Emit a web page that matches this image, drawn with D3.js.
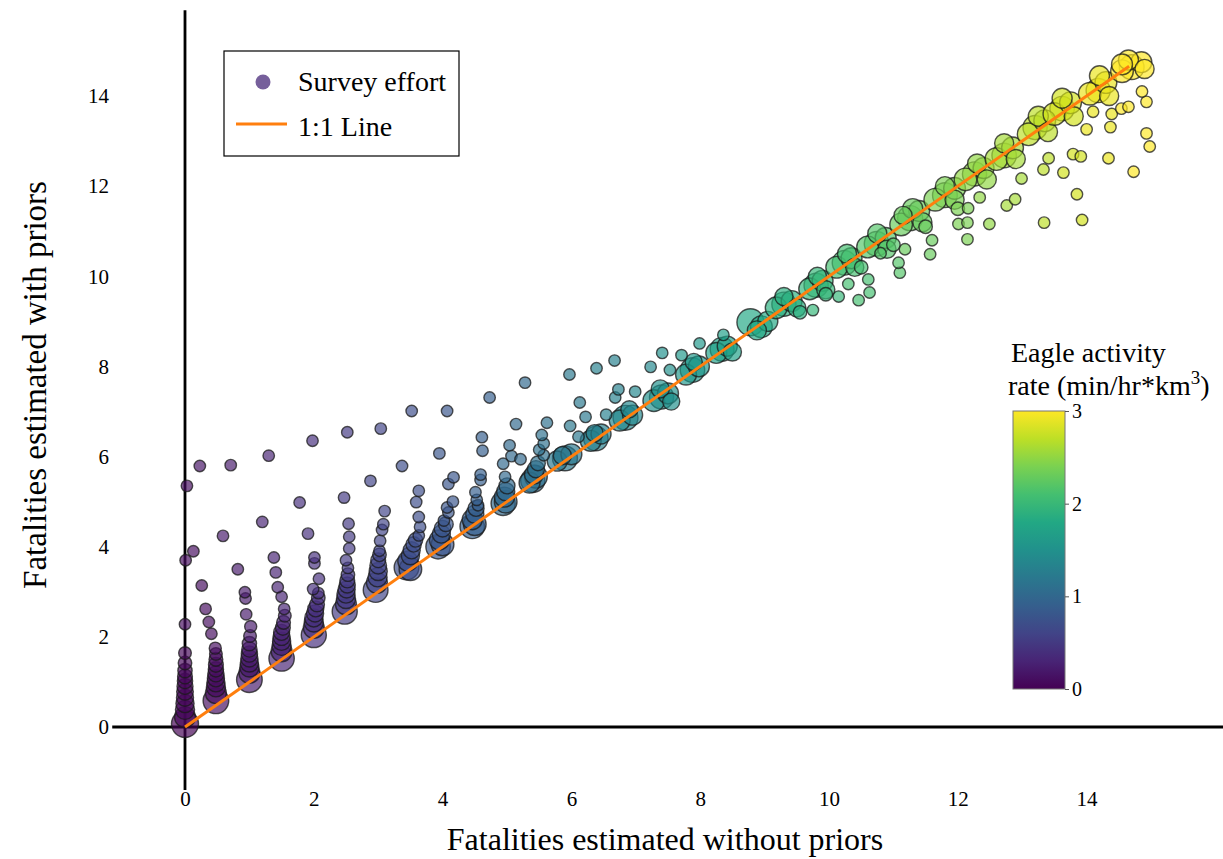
<!DOCTYPE html>
<html>
<head>
<meta charset="utf-8">
<script src="https://cdn.jsdelivr.net/npm/d3@7"></script>
<style>
  body { margin: 0; background: #fff; }
  svg text { font-family: "Liberation Serif", "Times New Roman", serif; }
</style>
</head>
<body>
<div id="chart"></div>
<script>
var width = 1223;
var height = 859;

// tick labels
var xTicks = [0, 2, 4, 6, 8, 10, 12, 14];
var yTicks = [0, 2, 4, 6, 8, 10, 12, 14];
var rateTicks = [0, 1, 2, 3];

// [without priors, with priors, survey effort, activity rate]
var lineClusters = [
  [0.0, 0.07, 100, 0.0], [0.48, 0.58, 90, 0.1], [1.0, 1.05, 90, 0.2], [1.5, 1.52, 88, 0.3],
  [2.0, 2.04, 86, 0.4], [2.48, 2.56, 86, 0.5], [2.96, 3.04, 84, 0.6], [3.44, 3.54, 84, 0.7],
  [3.93, 4.0, 82, 0.8], [4.46, 4.45, 82, 0.9], [4.94, 4.96, 80, 1.0], [5.4, 5.47, 80, 1.1],
  [5.9, 5.96, 85, 1.2], [6.38, 6.4, 82, 1.3], [6.84, 6.86, 85, 1.4], [7.4, 7.32, 80, 1.5],
  [7.88, 7.92, 82, 1.6], [8.34, 8.38, 78, 1.7], [8.78, 8.98, 100, 1.8], [9.3, 9.38, 80, 1.9],
  [9.8, 9.8, 80, 2.0], [10.24, 10.3, 82, 2.1], [10.74, 10.72, 84, 2.2], [11.26, 11.29, 86, 2.3],
  [11.8, 11.8, 84, 2.4], [12.26, 12.27, 80, 2.5], [12.72, 12.68, 82, 2.6], [13.2, 13.3, 80, 2.7],
  [13.62, 13.72, 82, 2.8], [14.18, 14.12, 80, 2.9], [14.7, 14.64, 84, 3.0]
];

var clusterExtras = [
  [3.5, 3.5, 70, 0.7], [4.0, 4.05, 70, 0.8], [4.5, 4.5, 70, 0.9], [4.98, 5.0, 70, 1.0],
  [5.45, 5.55, 70, 1.1], [5.35, 5.42, 60, 1.1],
  [5.78, 5.9, 55, 1.2], [6.0, 6.05, 60, 1.2], [5.86, 6.02, 45, 1.2],
  [6.3, 6.35, 60, 1.3], [6.46, 6.5, 55, 1.3], [6.36, 6.52, 40, 1.3],
  [6.75, 6.8, 60, 1.4], [6.95, 6.92, 55, 1.4], [6.9, 7.05, 40, 1.4],
  [7.28, 7.24, 65, 1.5], [7.5, 7.4, 60, 1.5], [7.38, 7.5, 45, 1.5], [7.55, 7.22, 40, 1.5],
  [7.78, 7.82, 60, 1.6], [7.98, 8.0, 60, 1.6], [7.9, 8.1, 40, 1.6],
  [8.25, 8.3, 60, 1.7], [8.42, 8.45, 55, 1.7], [8.5, 8.32, 45, 1.7],
  [8.95, 8.88, 65, 1.8], [9.05, 9.0, 55, 1.8], [8.88, 8.8, 50, 1.8],
  [9.18, 9.3, 65, 1.9], [9.42, 9.45, 60, 1.9], [9.3, 9.55, 45, 1.9], [9.5, 9.3, 45, 1.9],
  [9.7, 9.72, 65, 2.0], [9.9, 9.9, 60, 2.0], [9.82, 10.0, 45, 2.0], [9.95, 9.7, 45, 2.0],
  [10.12, 10.2, 65, 2.1], [10.35, 10.4, 60, 2.1], [10.28, 10.5, 50, 2.1], [10.4, 10.2, 45, 2.1],
  [10.6, 10.65, 65, 2.2], [10.88, 10.85, 60, 2.2], [10.75, 10.95, 50, 2.2], [10.9, 10.6, 45, 2.2],
  [11.12, 11.15, 70, 2.3], [11.4, 11.45, 60, 2.3], [11.3, 11.5, 55, 2.3], [11.45, 11.2, 50, 2.3], [11.15, 11.35, 45, 2.3],
  [11.65, 11.7, 70, 2.4], [11.95, 11.95, 65, 2.4], [11.8, 12.0, 50, 2.4], [11.95, 11.7, 50, 2.4],
  [12.12, 12.15, 70, 2.5], [12.4, 12.4, 60, 2.5], [12.3, 12.5, 50, 2.5], [12.45, 12.15, 50, 2.5],
  [12.6, 12.6, 70, 2.6], [12.85, 12.85, 65, 2.6], [12.72, 12.95, 50, 2.6], [12.9, 12.6, 50, 2.6],
  [13.1, 13.15, 70, 2.7], [13.35, 13.45, 65, 2.7], [13.25, 13.55, 55, 2.7], [13.4, 13.2, 50, 2.7],
  [13.5, 13.6, 70, 2.8], [13.75, 13.85, 65, 2.8], [13.62, 13.95, 55, 2.8], [13.8, 13.55, 50, 2.8],
  [14.05, 14.05, 70, 2.9], [14.3, 14.3, 65, 2.9], [14.2, 14.45, 55, 2.9], [14.35, 14.0, 50, 2.9],
  [14.55, 14.55, 70, 3.0], [14.85, 14.75, 60, 3.0], [14.65, 14.8, 55, 3.0], [14.9, 14.6, 50, 3.0], [14.55, 14.7, 60, 3.0]
];

var columnStacks = [
  [0, 0.22, 60, 0.05], [0, 0.38, 50, 0.05], [0, 0.52, 45, 0.05], [0, 0.65, 40, 0.05], [0, 0.78, 38, 0.05],
  [0, 0.9, 35, 0.05], [0, 1.02, 32, 0.05], [0, 1.12, 30, 0.05], [0, 1.25, 28, 0.05], [0, 1.42, 25, 0.05],
  [0, 1.64, 22, 0.05], [0, 2.28, 18, 0.1], [0.01, 3.7, 18, 0.1], [0.03, 5.35, 18, 0.1],
  [0.48, 0.75, 60, 0.1], [0.48, 0.88, 50, 0.1], [0.48, 0.98, 45, 0.1], [0.48, 1.08, 40, 0.1], [0.48, 1.18, 36, 0.1],
  [0.48, 1.28, 32, 0.1], [0.48, 1.38, 30, 0.1], [0.48, 1.5, 26, 0.1], [0.48, 1.62, 22, 0.1], [0.47, 1.75, 20, 0.1],
  [1.0, 1.2, 60, 0.2], [1.0, 1.32, 50, 0.2], [1.0, 1.42, 45, 0.2], [1.0, 1.52, 40, 0.2], [1.0, 1.62, 36, 0.2],
  [1.0, 1.72, 32, 0.2], [1.0, 1.85, 28, 0.2], [1.01, 2.02, 22, 0.2], [1.02, 2.23, 20, 0.2],
  [1.5, 1.68, 60, 0.3], [1.5, 1.8, 50, 0.3], [1.5, 1.9, 45, 0.3], [1.5, 2.0, 40, 0.3], [1.5, 2.1, 35, 0.3],
  [1.52, 2.2, 30, 0.3], [1.53, 2.32, 26, 0.3], [1.55, 2.47, 22, 0.3],
  [2.0, 2.2, 60, 0.4], [2.0, 2.32, 50, 0.4], [2.0, 2.42, 45, 0.4], [2.02, 2.52, 40, 0.4], [2.03, 2.62, 35, 0.4],
  [2.05, 2.72, 30, 0.4], [2.07, 2.87, 25, 0.4],
  [2.5, 2.72, 60, 0.5], [2.5, 2.84, 50, 0.5], [2.5, 2.95, 45, 0.5], [2.51, 3.05, 40, 0.5], [2.52, 3.15, 35, 0.5],
  [2.52, 3.25, 30, 0.5], [2.53, 3.38, 25, 0.5],
  [2.98, 3.2, 60, 0.6], [2.99, 3.32, 50, 0.6], [3.0, 3.45, 45, 0.6], [3.0, 3.58, 38, 0.6], [3.0, 3.7, 30, 0.6], [3.02, 3.82, 25, 0.6],
  [3.46, 3.68, 55, 0.7], [3.5, 3.8, 45, 0.7], [3.52, 3.92, 40, 0.7], [3.55, 4.05, 32, 0.7], [3.58, 4.15, 28, 0.7],
  [3.95, 4.15, 55, 0.8], [3.98, 4.28, 45, 0.8], [4.0, 4.4, 38, 0.8], [4.05, 4.5, 30, 0.8],
  [4.46, 4.6, 55, 0.9], [4.5, 4.72, 45, 0.9], [4.52, 4.85, 35, 0.9],
  [4.96, 5.1, 55, 1.0], [4.98, 5.22, 45, 1.0], [5.0, 5.35, 35, 1.0],
  [5.42, 5.6, 50, 1.1], [5.45, 5.72, 40, 1.1], [5.48, 5.85, 30, 1.1]
];

var upperPoints = [
  [0.41, 2.07, 18, 0.1], [0.37, 2.33, 18, 0.1], [0.32, 2.62, 18, 0.1], [0.26, 3.14, 18, 0.1],
  [0.13, 3.9, 18, 0.1], [0.23, 5.79, 18, 0.15],
  [0.95, 2.5, 18, 0.2], [0.94, 2.85, 18, 0.2], [0.93, 2.99, 18, 0.2], [0.82, 3.5, 18, 0.2],
  [0.59, 4.24, 18, 0.2], [0.71, 5.81, 18, 0.2],
  [1.54, 2.62, 18, 0.3], [1.5, 2.89, 18, 0.3], [1.44, 3.1, 18, 0.3], [1.41, 3.43, 18, 0.3],
  [1.38, 3.76, 18, 0.3], [1.2, 4.55, 18, 0.3], [1.3, 6.02, 18, 0.3],
  [2.07, 2.97, 18, 0.4], [1.99, 3.06, 18, 0.4], [2.08, 3.29, 18, 0.4], [2.01, 3.63, 18, 0.4],
  [2.01, 3.76, 18, 0.4], [1.91, 4.29, 18, 0.4], [1.78, 4.98, 18, 0.4], [1.98, 6.35, 18, 0.4],
  [2.53, 3.53, 18, 0.5], [2.5, 3.7, 18, 0.5], [2.55, 3.96, 18, 0.5], [2.55, 4.22, 18, 0.5],
  [2.54, 4.51, 18, 0.5], [2.47, 5.09, 18, 0.5], [2.52, 6.54, 18, 0.5],
  [3.02, 3.91, 18, 0.6], [3.03, 4.13, 18, 0.6], [3.06, 4.37, 18, 0.6], [3.08, 4.5, 18, 0.6],
  [3.1, 4.79, 18, 0.6], [2.88, 5.46, 18, 0.6], [3.04, 6.62, 18, 0.6],
  [3.63, 4.25, 18, 0.7], [3.65, 4.44, 18, 0.7], [3.63, 4.66, 18, 0.7], [3.59, 4.99, 18, 0.7],
  [3.63, 5.24, 18, 0.7], [3.37, 5.79, 18, 0.7], [3.52, 7.01, 18, 0.7],
  [4.02, 4.58, 18, 0.8], [4.09, 4.76, 18, 0.8], [4.07, 4.87, 18, 0.8], [4.16, 5.0, 18, 0.8],
  [4.09, 5.39, 18, 0.8], [4.17, 5.54, 18, 0.8], [3.95, 6.07, 18, 0.8], [4.07, 7.01, 18, 0.8],
  [4.55, 4.92, 18, 0.9], [4.53, 5.04, 18, 0.9], [4.51, 5.21, 18, 0.9], [4.59, 5.48, 18, 0.9],
  [4.59, 5.6, 18, 0.9], [4.62, 6.13, 18, 0.9], [4.61, 6.43, 18, 0.9], [4.73, 7.31, 18, 0.9],
  [4.97, 5.55, 18, 1.0], [4.94, 5.84, 18, 1.0], [5.07, 6.01, 18, 1.0], [5.21, 5.94, 18, 1.0],
  [5.04, 6.25, 18, 1.0], [5.14, 6.72, 18, 1.0], [5.28, 7.64, 18, 1.0],
  [5.57, 6.03, 18, 1.1], [5.5, 6.15, 18, 1.1], [5.57, 6.29, 18, 1.1], [5.54, 6.48, 18, 1.1],
  [5.62, 6.75, 18, 1.1],
  [5.98, 6.68, 18, 1.2], [6.11, 6.44, 18, 1.2], [6.13, 7.2, 18, 1.2], [5.97, 7.82, 18, 1.2],
  [6.22, 6.88, 18, 1.2], [6.39, 7.96, 18, 1.3],
  [6.54, 6.93, 18, 1.3], [6.68, 7.31, 18, 1.3], [6.73, 7.49, 18, 1.3], [6.67, 8.13, 18, 1.3],
  [6.99, 7.44, 18, 1.4], [7.23, 7.99, 18, 1.4], [7.41, 8.3, 18, 1.5], [7.53, 7.92, 18, 1.5],
  [7.71, 8.25, 18, 1.6], [7.99, 8.51, 18, 1.6], [8.36, 8.7, 18, 1.7]
];

var lowerPoints = [
  [9.55, 9.2, 25, 1.9], [9.95, 9.6, 25, 2.0], [10.5, 10.2, 25, 2.1], [11.0, 10.7, 25, 2.2],
  [11.5, 11.1, 25, 2.3], [12.0, 11.5, 25, 2.4],
  [9.75, 9.25, 18, 2.0], [10.15, 9.55, 18, 2.0],
  [10.46, 9.47, 18, 2.1], [10.63, 9.64, 18, 2.1], [10.3, 9.83, 18, 2.1], [10.61, 9.93, 18, 2.1],
  [10.8, 10.51, 18, 2.2], [11.1, 10.08, 18, 2.2], [11.08, 10.3, 18, 2.2], [11.18, 10.6, 18, 2.3],
  [11.57, 10.49, 18, 2.3], [11.6, 10.8, 18, 2.3], [12.15, 10.82, 18, 2.4], [12.01, 11.16, 18, 2.4],
  [12.15, 11.19, 18, 2.4], [12.49, 11.16, 18, 2.5], [12.16, 11.51, 18, 2.4], [12.34, 11.75, 18, 2.5],
  [12.76, 11.57, 18, 2.6], [12.89, 11.71, 18, 2.6], [12.99, 12.17, 18, 2.6], [13.34, 11.19, 18, 2.7],
  [13.93, 11.25, 18, 2.8], [13.85, 11.82, 18, 2.8], [13.33, 12.37, 18, 2.7], [13.41, 12.62, 18, 2.7],
  [13.64, 12.3, 18, 2.8], [13.79, 12.71, 18, 2.8], [13.91, 12.66, 18, 2.8], [14.0, 13.26, 18, 2.9],
  [14.34, 12.62, 18, 2.9], [14.73, 12.32, 18, 3.0], [14.37, 13.31, 18, 2.9], [14.39, 13.6, 18, 2.9],
  [14.54, 13.72, 18, 3.0], [14.65, 13.76, 18, 3.0], [14.93, 13.87, 18, 3.0], [14.86, 14.1, 18, 3.0],
  [14.93, 13.17, 18, 3.0], [14.98, 12.88, 18, 3.0], [14.1, 13.65, 18, 2.9]
];

var oneToOne = [0, 14.66];

var svg = d3.select("#chart")
  .append("svg")
  .attr("width", width)
  .attr("height", height);

var x = d3.scaleLinear().domain([0, 14]).range([185, 1086.6]);
var y = d3.scaleLinear().domain([0, 14]).range([727, 96]);
var r = d3.scaleSqrt().domain([0, 100]).range([0, 13.5]);
var color = d3.scaleSequential(d3.interpolateViridis).domain([0, 3]);

// axes crossing at the origin
svg.append("line")
  .attr("x1", x(-1.13)).attr("x2", x(16.23))
  .attr("y1", y(0)).attr("y2", y(0))
  .attr("stroke", "#000").attr("stroke-width", 2.8);
svg.append("line")
  .attr("x1", x(0)).attr("x2", x(0))
  .attr("y1", y(15.9)).attr("y2", y(-1.4))
  .attr("stroke", "#000").attr("stroke-width", 2.8);

var xAxis = svg.append("g")
  .attr("transform", "translate(0," + y(0) + ")")
  .call(d3.axisBottom(x).tickValues(xTicks).tickSize(0).tickPadding(64));
var yAxis = svg.append("g")
  .attr("transform", "translate(" + x(0) + ",0)")
  .call(d3.axisLeft(y).tickValues(yTicks).tickSize(0).tickPadding(76));
[xAxis, yAxis].forEach(function(g) {
  g.select(".domain").remove();
  g.selectAll("text")
    .attr("font-family", "Liberation Serif, Times New Roman, serif")
    .attr("font-size", "21px")
    .attr("fill", "#000");
});

// points
var allPoints = lineClusters.concat(clusterExtras, columnStacks, upperPoints, lowerPoints);
svg.append("g")
  .selectAll("circle")
  .data(allPoints)
  .enter()
  .append("circle")
  .attr("cx", function(d) { return x(d[0]); })
  .attr("cy", function(d) { return y(d[1]); })
  .attr("r", function(d) { return r(d[2]); })
  .attr("fill", function(d) { return color(d[3]); })
  .attr("fill-opacity", 0.68)
  .attr("stroke", "#1a1a1a")
  .attr("stroke-opacity", 0.75)
  .attr("stroke-width", 1.4);

// 1:1 line
svg.append("line")
  .attr("x1", x(oneToOne[0])).attr("y1", y(oneToOne[0]))
  .attr("x2", x(oneToOne[1])).attr("y2", y(oneToOne[1]))
  .attr("stroke", "#ff7f0e")
  .attr("stroke-width", 3);

// axis titles
svg.append("text")
  .attr("x", 665).attr("y", 850)
  .attr("text-anchor", "middle")
  .attr("font-size", "32px")
  .text("Fatalities estimated without priors");
svg.append("text")
  .attr("transform", "translate(46,385) rotate(-90)")
  .attr("text-anchor", "middle")
  .attr("font-size", "33px")
  .text("Fatalities estimated with priors");

// legend
var legend = svg.append("g");
legend.append("rect")
  .attr("x", 224).attr("y", 51).attr("width", 235).attr("height", 105)
  .attr("fill", "#fff").attr("stroke", "#000").attr("stroke-width", 1.2);
legend.append("circle")
  .attr("cx", 263).attr("cy", 82).attr("r", 7.5)
  .attr("fill", color(0.35)).attr("fill-opacity", 0.75);
legend.append("text")
  .attr("x", 298).attr("y", 91).attr("font-size", "28px")
  .text("Survey effort");
legend.append("line")
  .attr("x1", 236).attr("x2", 287).attr("y1", 124).attr("y2", 124)
  .attr("stroke", "#ff7f0e").attr("stroke-width", 3);
legend.append("text")
  .attr("x", 298).attr("y", 136).attr("font-size", "28px")
  .text("1:1 Line");

// colour bar
var cb = d3.scaleLinear().domain([0, 3]).range([689, 411]);
var defs = svg.append("defs");
var grad = defs.append("linearGradient")
  .attr("id", "viridis").attr("x1", "0").attr("y1", "1").attr("x2", "0").attr("y2", "0");
d3.range(0, 1.0001, 0.1).forEach(function(t) {
  grad.append("stop").attr("offset", t).attr("stop-color", d3.interpolateViridis(t));
});
svg.append("rect")
  .attr("x", 1013).attr("y", cb(3)).attr("width", 52).attr("height", cb(0) - cb(3))
  .attr("fill", "url(#viridis)")
  .attr("stroke", "#777").attr("stroke-width", 1);
var cbAxis = svg.append("g")
  .attr("transform", "translate(1065,0)")
  .call(d3.axisRight(cb).tickValues(rateTicks).tickSize(4).tickPadding(3).tickFormat(d3.format("d")));
cbAxis.select(".domain").remove();
cbAxis.selectAll("line").attr("stroke", "#555");
cbAxis.selectAll("text")
  .attr("font-family", "DejaVu Sans, sans-serif")
  .attr("font-size", "20px")
  .attr("fill", "#000");

svg.append("text")
  .attr("x", 1011).attr("y", 362).attr("font-size", "28px")
  .text("Eagle activity");
var rateTitle = svg.append("text")
  .attr("x", 1008).attr("y", 395).attr("font-size", "28px");
rateTitle.append("tspan").text("rate (min/hr*km");
rateTitle.append("tspan").attr("dy", -11).attr("font-size", "19px").text("3");
rateTitle.append("tspan").attr("dy", 11).text(")");
</script>
</body>
</html>
